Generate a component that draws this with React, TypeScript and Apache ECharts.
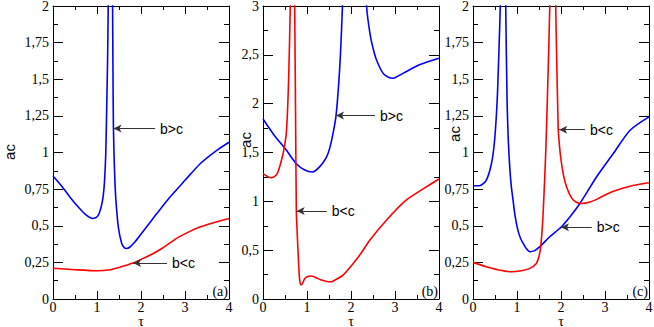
import React, { useEffect, useRef } from "react";
import * as echarts from "echarts";

// ---- data (tau, ac); null marks a pole (break) ----
const aBlue: [number, number | null][] = [
  [0, 0.84], [0.2, 0.77], [0.4, 0.69], [0.6, 0.62], [0.75, 0.575], [0.9, 0.55], [1.0, 0.56],
  [1.05, 0.585], [1.1, 0.635], [1.14, 0.7], [1.17, 0.8], [1.2, 1.0], [1.22, 1.3], [1.24, 1.62],
  [1.255, 2.0], [1.265, 2.4], [1.3, null], [1.345, 2.4], [1.354, 2.0], [1.362, 1.6], [1.372, 1.2],
  [1.386, 1.0], [1.405, 0.82], [1.43, 0.673], [1.485, 0.49], [1.56, 0.38], [1.62, 0.35],
  [1.67, 0.345], [1.75, 0.355], [1.85, 0.385], [1.98, 0.435], [2.2, 0.52], [2.36, 0.583],
  [2.66, 0.696], [3.0, 0.81], [3.35, 0.925], [3.7, 1.01], [4.0, 1.07],
];
const aRed: [number, number | null][] = [
  [0, 0.21], [0.5, 0.2], [1.0, 0.193], [1.3, 0.2], [1.5, 0.215], [1.82, 0.245], [2.0, 0.27],
  [2.28, 0.311], [2.5, 0.35], [2.81, 0.414], [3.1, 0.46], [3.35, 0.493], [3.7, 0.525], [4.0, 0.55],
];
const bBlue: [number, number | null][] = [
  [0, 1.843], [0.25, 1.68], [0.53, 1.525], [0.757, 1.385], [0.95, 1.32], [1.13, 1.3],
  [1.29, 1.355], [1.44, 1.45], [1.52, 1.55], [1.594, 1.7], [1.66, 1.878], [1.72, 2.2],
  [1.76, 2.5], [1.806, 3.0], [1.83, 3.4], [2.08, null], [2.32, 3.4], [2.353, 3.0], [2.43, 2.72],
  [2.5, 2.57], [2.58, 2.447], [2.73, 2.31], [2.85, 2.27], [2.96, 2.26], [3.1, 2.29], [3.26, 2.33],
  [3.57, 2.4], [4.0, 2.464],
];
const bRed: [number, number | null][] = [
  [0, 1.283], [0.1, 1.255], [0.19, 1.242], [0.28, 1.26], [0.34, 1.3], [0.42, 1.42], [0.47, 1.52],
  [0.53, 1.7], [0.58, 2.21], [0.62, 3.0], [0.63, 3.4], [0.67, null], [0.71, 3.4], [0.72, 3.0],
  [0.74, 1.9], [0.757, 0.908], [0.775, 0.7], [0.795, 0.5], [0.815, 0.32], [0.834, 0.194],
  [0.87, 0.143], [0.91, 0.17], [0.95, 0.211], [1.02, 0.23], [1.1, 0.235], [1.2, 0.22],
  [1.325, 0.194], [1.45, 0.18], [1.55, 0.177], [1.7, 0.21], [1.82, 0.245], [2.05, 0.364],
  [2.2, 0.45], [2.43, 0.604], [2.81, 0.809], [3.26, 1.014], [3.72, 1.15], [4.0, 1.229],
];
const cBlue: [number, number | null][] = [
  [0, 0.773], [0.15, 0.773], [0.3, 0.81], [0.42, 0.925], [0.49, 1.08], [0.55, 1.36], [0.59, 1.7],
  [0.62, 2.0], [0.63, 2.3], [0.68, null], [0.735, 2.3], [0.744, 2.0], [0.774, 1.36], [0.8, 1.1],
  [0.835, 0.9], [0.87, 0.77], [0.91, 0.675], [0.96, 0.56], [1.02, 0.47], [1.08, 0.415],
  [1.14, 0.38], [1.21, 0.345], [1.29, 0.323], [1.4, 0.33], [1.52, 0.357], [1.745, 0.425],
  [2.0, 0.49], [2.2, 0.56], [2.43, 0.652], [2.81, 0.834], [3.19, 0.993], [3.57, 1.152], [4.0, 1.243],
];
const cRed: [number, number | null][] = [
  [0, 0.25], [0.3, 0.22], [0.53, 0.202], [0.87, 0.186], [1.1, 0.193], [1.29, 0.209], [1.44, 0.243],
  [1.5, 0.29], [1.54, 0.357], [1.59, 0.56], [1.655, 1.016], [1.71, 1.58], [1.745, 2.0],
  [1.755, 2.3], [1.81, null], [1.87, 2.3], [1.88, 2.0], [1.935, 1.175], [1.97, 1.03],
  [2.01, 0.93], [2.06, 0.84], [2.125, 0.766], [2.24, 0.69], [2.35, 0.66], [2.47, 0.652],
  [2.64, 0.66], [2.81, 0.68], [3.0, 0.71], [3.19, 0.735], [3.57, 0.77], [4.0, 0.793],
];

const xTicks = { min: 0, max: 4, interval: 1 };
const yRanges = [
  { max: 2, interval: 0.25 },
  { max: 3, interval: 0.5 },
  { max: 2, interval: 0.25 },
];
const panelTags = ["(a)", "(b)", "(c)"];
const yName = "ac";
const xName = "τ";

// annotations: [panel, arrow-head tau, ac, tail tau, text]
const notes: [number, number, number, number, string][] = [
  [0, 1.375, 1.163, 2.32, "b>c"],
  [0, 1.82, 0.245, 2.59, "b<c"],
  [1, 1.66, 1.878, 2.545, "b>c"],
  [1, 0.766, 0.9, 1.45, "b<c"],
  [2, 1.96, 1.156, 2.545, "b<c"],
  [2, 2.0, 0.49, 2.7, "b>c"],
];

const seriesSets = [
  [aBlue, aRed],
  [bBlue, bRed],
  [cBlue, cRed],
];

export default function App() {
  const ref = useRef<HTMLDivElement>(null);
  useEffect(() => {
    document.body.style.margin = "0";
    const chart = echarts.init(ref.current!, null, { renderer: "svg" });
    const lefts = [53, 263, 473];
    const W = 176;
    const top = 6;
    const H = 293;
    const serif = "Liberation Serif";
    const sans = "Liberation Sans";

    const grids: any[] = [];
    const xAxes: any[] = [];
    const yAxes: any[] = [];
    const series: any[] = [];
    const graphics: any[] = [];

    lefts.forEach((l, i) => {
      grids.push({ left: l, top, width: W, height: H, outerBoundsMode: "none", containLabel: false });
      const common = {
        gridIndex: i,
        type: "value",
        splitLine: { show: false },
        axisLine: { show: true, onZero: false, lineStyle: { color: "#000", width: 1 } },
      };
      xAxes.push({
        ...common,
        ...xTicks,
        position: "bottom",
        axisTick: { inside: true, length: 8, lineStyle: { color: "#000" } },
        minorTick: { show: true, splitNumber: 2, length: 4, lineStyle: { color: "#000" } },
        axisLabel: { fontFamily: serif, fontSize: 14, color: "#000", margin: 1 },
      });
      xAxes.push({
        ...common,
        ...xTicks,
        position: "top",
        axisTick: { inside: true, length: 8, lineStyle: { color: "#000" } },
        minorTick: { show: true, splitNumber: 2, length: 4, lineStyle: { color: "#000" } },
        axisLabel: { show: false },
      });
      const yr = yRanges[i];
      yAxes.push({
        ...common,
        min: 0,
        max: yr.max,
        interval: yr.interval,
        position: "left",
        axisTick: { inside: true, length: 10, lineStyle: { color: "#000" } },
        minorTick: { show: true, splitNumber: 2, length: 5, lineStyle: { color: "#000" } },
        axisLabel: {
          fontFamily: serif,
          fontSize: 14,
          color: "#000",
          margin: 4,
          formatter: (v: number) => String(v).replace(".", ","),
        },
      });
      yAxes.push({
        ...common,
        min: 0,
        max: yr.max,
        interval: yr.interval,
        position: "right",
        axisTick: { inside: true, length: 10, lineStyle: { color: "#000" } },
        minorTick: { show: true, splitNumber: 2, length: 5, lineStyle: { color: "#000" } },
        axisLabel: { show: false },
      });

      const [blue, red] = seriesSets[i];
      const panelNotes = notes.filter((n) => n[0] === i);
      [
        { data: blue, color: "#0000ff" },
        { data: red, color: "#ff0000" },
      ].forEach((s, k) => {
        series.push({
          type: "line",
          xAxisIndex: 2 * i,
          yAxisIndex: 2 * i,
          data: s.data,
          showSymbol: false,
          smooth: 0.25,
          connectNulls: false,
          clip: true,
          lineStyle: { color: s.color, width: 1.6 },
          silent: true,
          markLine:
            k === 0
              ? {
                  silent: true,
                  animation: false,
                  symbolSize: [6, 8],
                  lineStyle: { color: "#333", width: 1, type: "solid" },
                  label: {
                    show: true,
                    position: "end",
                    distance: 5,
                    fontFamily: sans,
                    fontSize: 14,
                    color: "#000",
                  },
                  data: panelNotes.map((n) => [
                    { coord: [n[1], n[2]], symbol: "arrow" },
                    { coord: [n[3], n[2]], symbol: "none", label: { formatter: n[4] } },
                  ]),
                }
              : undefined,
        });
      });

      graphics.push({
        type: "text",
        x: l + W - 1,
        y: 291,
        style: {
          text: panelTags[i],
          font: `14px ${serif}`,
          fill: "#000",
          align: "right",
          verticalAlign: "middle",
        },
      });
      graphics.push({
        type: "text",
        x: l + W / 2,
        y: 321,
        style: {
          text: xName,
          font: `14px ${serif}`,
          fill: "#000",
          align: "center",
          verticalAlign: "middle",
        },
      });
    });

    const acPos = [
      { x: 9, y: 152 },
      { x: 245, y: 140 },
      { x: 454, y: 134 },
    ];
    acPos.forEach((p) => {
      graphics.push({
        type: "text",
        x: p.x,
        y: p.y,
        rotation: Math.PI / 2,
        style: {
          text: yName,
          font: `15px ${sans}`,
          fill: "#000",
          align: "center",
          verticalAlign: "middle",
        },
      });
    });

    chart.setOption({
      animation: false,
      backgroundColor: "#fff",
      grid: grids,
      xAxis: xAxes,
      yAxis: yAxes,
      series,
      graphic: graphics,
    });
    return () => chart.dispose();
  }, []);
  return (
    <div
      ref={ref}
      style={{ width: 654, height: 327, position: "absolute", left: 0, top: 0 }}
    />
  );
}
